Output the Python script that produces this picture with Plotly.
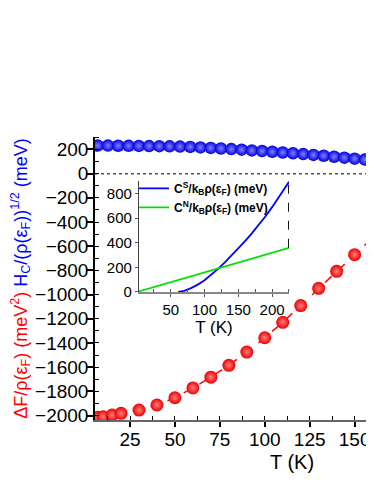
import plotly.graph_objects as go

# ---- data ----
hc_T = [7.0, 12.7, 18.4, 24.2, 29.9, 35.6, 41.3, 47.0, 52.8, 58.5, 64.2, 69.9, 75.6, 81.4,
        87.1, 92.8, 98.5, 104.2, 110.0, 115.7, 121.4, 127.1, 132.8, 138.6, 144.3, 150.0,
        155.7, 161.4]
hc_val = [232, 232, 231, 230, 229, 228, 227, 226, 224, 221, 217, 213, 208, 203,
          198, 192, 187, 181, 175, 169, 162, 155, 148, 140, 132, 124, 116, 108]

df_T = [7, 10, 15, 20, 30, 40, 50, 60, 70, 80, 90, 100, 110, 120, 130, 140, 150, 160]
df_val = [-2015, -2010, -1996, -1982, -1955, -1913, -1853, -1772, -1683, -1585, -1475,
          -1357, -1229, -1091, -948, -808, -670, -532]

cs_T = [61, 70, 80, 90, 100, 110, 120, 130, 140, 150, 160, 170, 180, 190, 200, 210, 220, 225]
cs_val = [0, 10, 32, 60, 95, 138, 188, 240, 295, 352, 412, 475, 542, 612, 688, 770, 850, 893]

cn_T = [3, 225]
cn_val = [5, 358]

main_yticks = [-2000, -1800, -1600, -1400, -1200, -1000, -800, -600, -400, -200, 0, 200]
main_xticks = [25, 50, 75, 100, 125, 150]
inset_yticks = [0, 200, 400, 600, 800]
inset_xticks = [50, 100, 150, 200]

FONT = "Liberation Sans, Arial, sans-serif"

fig = go.Figure()

fig.add_trace(go.Scatter(
    x=df_T, y=df_val, mode="lines+markers", showlegend=False,
    line=dict(color="#ff0000", width=1.5, dash="dash"),
    marker=dict(size=13, color="#ee0000", line=dict(width=0),
                gradient=dict(type="radial", color="#ff8080")),
    xaxis="x", yaxis="y"))

fig.add_trace(go.Scatter(
    x=hc_T, y=hc_val, mode="markers", showlegend=False,
    marker=dict(size=12.5, color="#0000e0", line=dict(width=0),
                gradient=dict(type="radial", color="#8080ff")),
    xaxis="x", yaxis="y"))

# inset
fig.add_trace(go.Scatter(
    x=cs_T, y=cs_val, mode="lines", name="<b>C<sup>S</sup>/k<sub>B</sub>ρ(ε<sub>F</sub>) (meV)</b>",
    line=dict(color="#0000ff", width=1.8), xaxis="x2", yaxis="y2"))
fig.add_trace(go.Scatter(
    x=cn_T, y=cn_val, mode="lines", name="<b>C<sup>N</sup>/k<sub>B</sub>ρ(ε<sub>F</sub>) (meV)</b>",
    line=dict(color="#00e000", width=1.8), xaxis="x2", yaxis="y2"))
fig.add_trace(go.Scatter(
    x=[cn_T[-1], cs_T[-1]], y=[cn_val[-1], cs_val[-1]], mode="lines", showlegend=False,
    line=dict(color="black", width=1.8, dash="dash"), xaxis="x2", yaxis="y2"))

ytitle = ('<span style="color:#ff0000">ΔF/ρ(ε<sub>F</sub>) (meV<sup>2</sup>)</span> '
          '<span style="color:#0000ff">H<sub>C</sub>/(ρ(ε<sub>F</sub>))<sup>1/2</sup> (meV)</span>')

yr = [-2037, 303]
xr = [5.5, 160.8]

fig.update_layout(
    width=366, height=476,
    margin=dict(l=87, r=0, t=129, b=64, autoexpand=False),
    paper_bgcolor="white", plot_bgcolor="rgba(0,0,0,0)",
    font=dict(family=FONT, color="black"),
    xaxis=dict(range=xr, domain=[0, 1], anchor="y", tickvals=main_xticks, automargin=False,
               ticks="outside", ticklen=5, tickwidth=1.5, tickcolor="black", ticklabelstandoff=-4,
               minor=dict(ticks="inside", ticklen=4, dtick=12.5, tick0=0, tickcolor="black", tickwidth=1.2),
               showline=True, linecolor="#666666", linewidth=2, showgrid=False, zeroline=False,
               tickfont=dict(size=19, family=FONT)),
    yaxis=dict(range=yr, domain=[0, 1], anchor="x", tickvals=main_yticks, automargin=False,
               ticks="outside", ticklen=6, tickwidth=1.5, tickcolor="black", ticklabelstandoff=-5,
               minor=dict(ticks="inside", ticklen=4, dtick=100, tick0=0, tickcolor="black", tickwidth=1.2),
               showline=True, linecolor="black", linewidth=1.5, showgrid=False, zeroline=False,
               tickfont=dict(size=19, family=FONT),
               title=dict(text=ytitle, font=dict(size=18, family=FONT), standoff=4)),
    xaxis3=dict(range=xr, overlaying="x", anchor="y", tickvals=main_xticks, showticklabels=False,
                ticks="inside", ticklen=5, tickwidth=1.5, tickcolor="black", automargin=False,
                showline=False, showgrid=False, zeroline=False),
    yaxis3=dict(range=yr, overlaying="y", anchor="x", tickvals=main_yticks, showticklabels=False,
                ticks="inside", ticklen=6, tickwidth=1.5, tickcolor="black", automargin=False,
                showline=False, showgrid=False, zeroline=False),
    xaxis2=dict(range=[3, 225], domain=[0.1577, 0.6953], anchor="y2", tickvals=inset_xticks,
                ticks="outside", ticklen=3, tickcolor="#555555", automargin=False,
                minor=dict(ticks="inside", ticklen=3, dtick=25, tick0=0, tickcolor="#555555"),
                showline=True, linecolor="#888888", linewidth=1.5, showgrid=False, zeroline=False,
                tickfont=dict(size=15, family=FONT),
                title=dict(text="T (K)", font=dict(size=17, family=FONT), standoff=0)),
    yaxis2=dict(range=[0, 900], domain=[0.4523, 0.8445], anchor="x2", tickvals=inset_yticks,
                ticks="outside", ticklen=3, tickcolor="#555555", automargin=False,
                showline=True, linecolor="#444444", linewidth=1.2, showgrid=False, zeroline=False,
                tickfont=dict(size=15, family=FONT)),
    legend=dict(x=0.14, y=0.87, xanchor="left", yanchor="top", bgcolor="rgba(0,0,0,0)",
                font=dict(size=12, family=FONT), tracegroupgap=0, itemwidth=30),
    annotations=[dict(text="T (K)", xref="paper", yref="paper", x=0.705, y=-0.147,
                      xanchor="center", yanchor="middle", showarrow=False,
                      font=dict(size=20, family=FONT))],
    shapes=[dict(type="line", xref="x domain", yref="y", x0=0, x1=1, y0=0, y1=0,
                 line=dict(color="#555555", width=1.5, dash="dot"), layer="below")],
)

fig.write_html("out.html")
